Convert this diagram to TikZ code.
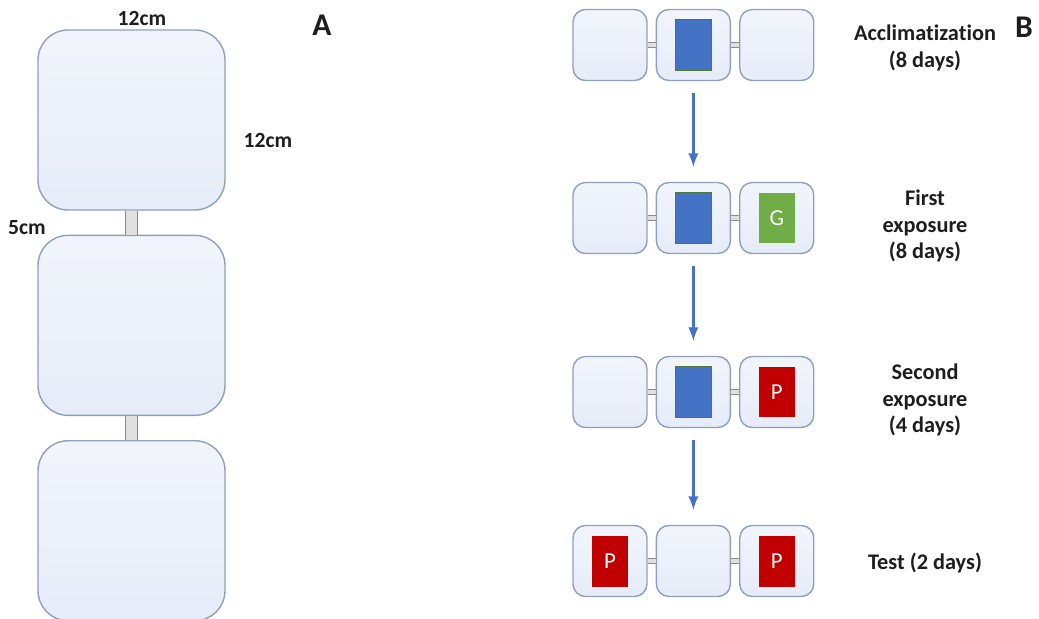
\documentclass[tikz,border=0pt]{standalone}
\usepackage{fontspec}
\setmainfont[Ligatures=NoCommon]{Carlito}
\usetikzlibrary{positioning,arrows,calc}
\definecolor{cageFill}{HTML}{E6ECF8}
\definecolor{cageEdge}{HTML}{8E9FC0}
\definecolor{tubeFill}{HTML}{E0E0E0}
\definecolor{tubeEdge}{HTML}{8A8A8A}
\definecolor{habBlue}{HTML}{4472C4}
\definecolor{habGreen}{HTML}{70AD47}
\definecolor{habRed}{HTML}{C00000}
\definecolor{inkGray}{HTML}{1E1E1E}
\tikzset{
    cageBase/.style={
        rectangle,
        draw=cageEdge,
        line width=0.8pt,
        top color=cageFill!55!white,
        bottom color=cageFill,
        inner sep=0pt
    },
    bigCage/.style={cageBase, rounded corners=0.6cm, minimum width=3.74cm, minimum height=3.6cm},
    smallCage/.style={cageBase, rounded corners=0.25cm, minimum width=1.48cm, minimum height=1.42cm},
    % Tubes between cages
    tube/.style={draw=tubeEdge, double=tubeFill, line width=0.6pt},
    bigTube/.style={tube, double distance=0.22cm},
    smallTube/.style={tube, double distance=0.07cm},
    % Stimuli inside cages
    item/.style={rectangle, minimum width=0.72cm, minimum height=1.02cm, inner sep=0pt, text=white, font=\fontsize{13}{15}\selectfont},
    home/.style={item, fill=habBlue, draw=habGreen!70!black, line width=0.6pt},
    good/.style={item, fill=habGreen},
    poor/.style={item, fill=habRed},
    % Arrows and labels
    flow/.style={->, >=latex, line width=1.6pt, draw=habBlue, shorten <=0.24cm, shorten >=0.3cm},
    dim/.style={text=inkGray, font=\bfseries\fontsize{12.3}{14}\selectfont},
    stage/.style={text=inkGray, font=\bfseries\fontsize{12.7}{15.3}\selectfont, align=center},
    panel/.style={text=inkGray, font=\bfseries\fontsize{18}{20}\selectfont}
}
\begin{document}
\begin{tikzpicture}[x=0.02cm, y=-0.02cm]
    \useasboundingbox (0,0) rectangle (1039,619);

    % Panel A
    \node[bigCage] (cageA1) at (131.5,120) {};
    \node[bigCage, below=0.48cm of cageA1] (cageA2) {};
    \node[bigCage, below=0.48cm of cageA2] (cageA3) {};
    \draw[bigTube] (cageA1.south) -- (cageA2.north);
    \draw[bigTube] (cageA2.south) -- (cageA3.north);

    \node[dim] (dimTop) at (142,18) {12cm};
    \node[dim] (dimSide) at (268,140) {12cm};
    \node[dim] (dimGap) at (27,228) {5cm};
    \node[panel] (labA) at (322,25) {A};

    % Panel B
    \foreach \r/\y in {1/45, 2/218, 3/392, 4/561}{
        \node[smallCage] (r\r c1) at (610,\y) {};
        \node[smallCage, right=0.16cm of r\r c1] (r\r c2) {};
        \node[smallCage, right=0.16cm of r\r c2] (r\r c3) {};
        \draw[smallTube] (r\r c1.east) -- (r\r c2.west);
        \draw[smallTube] (r\r c2.east) -- (r\r c3.west);
    }

    \node[home] (home1) at (r1c2) {};
    \node[home] (home2) at (r2c2) {};
    \node[good] (good2) at (r2c3) {G};
    \node[home] (home3) at (r3c2) {};
    \node[poor] (poor3) at (r3c3) {P};
    \node[poor] (poorL4) at (r4c1) {P};
    \node[poor] (poorR4) at (r4c3) {P};

    \draw[flow] (r1c2) -- (r2c2);
    \draw[flow] (r2c2) -- (r3c2);
    \draw[flow] (r3c2) -- (r4c2);

    \node[stage] (st1) at (925,47.5) {Acclimatization\\(8 days)};
    \node[stage] (st2) at (925,226) {First\\exposure\\(8 days)};
    \node[stage] (st3) at (925,400) {Second\\exposure\\(4 days)};
    \node[stage] (st4) at (925,563) {Test (2 days)};
    \node[panel] (labB) at (1024,27) {B};
\end{tikzpicture}
\end{document}
